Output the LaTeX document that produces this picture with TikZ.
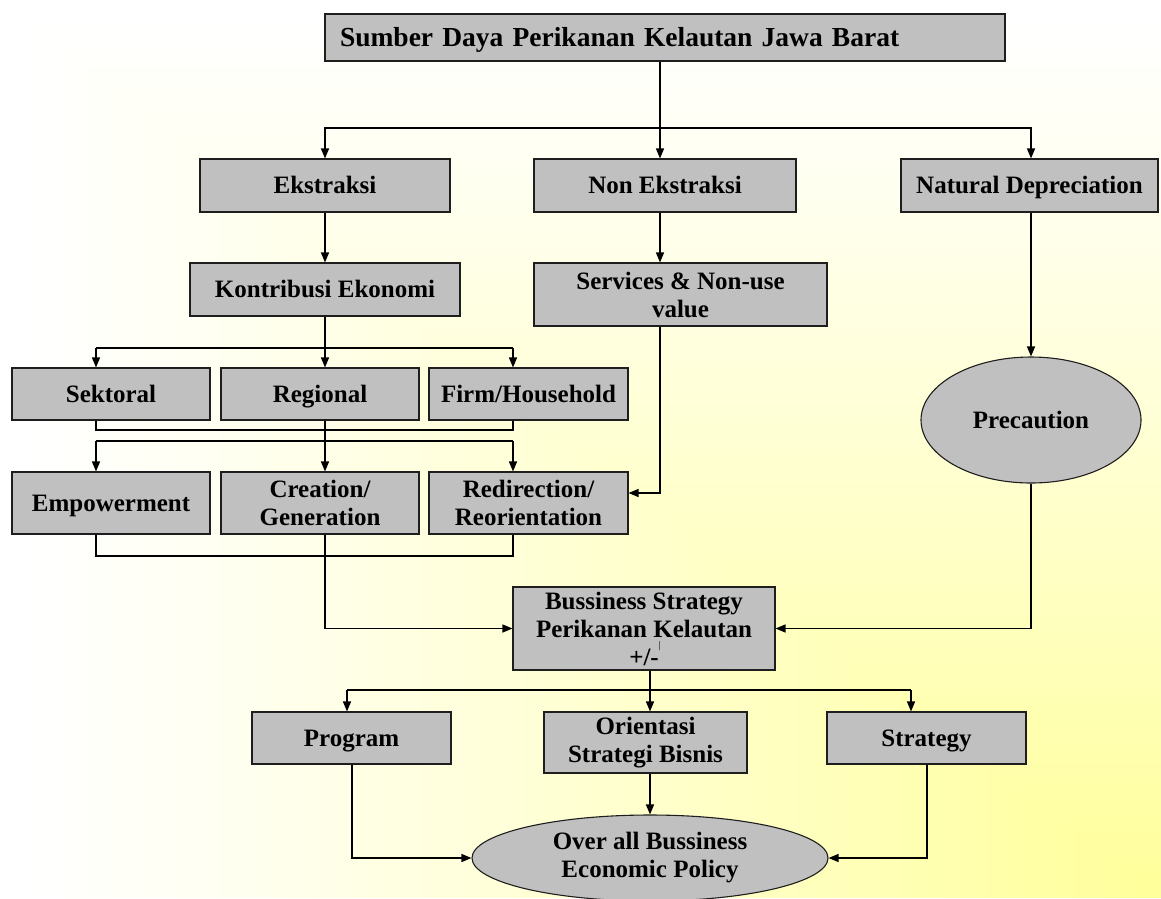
\documentclass[tikz,border=0pt]{standalone}
\usepackage{fontspec}
\setmainfont{Liberation Serif}
\usetikzlibrary{arrows.meta,shapes.geometric}
\definecolor{boxgray}{RGB}{192,192,192}
\definecolor{bgyel}{RGB}{255,255,153}
\definecolor{edge}{RGB}{30,30,30}

\begin{document}
\begin{tikzpicture}[x=1pt,y=-1pt,
  box/.style={draw=edge,line width=1.1pt,fill=boxgray,align=center,inner sep=0pt,
              font=\fontsize{25}{28}\selectfont\bfseries},
  oneline/.style={text height=18pt,text depth=1.5pt},
  oval/.style={box,ellipse},
  ln/.style={line width=1.4pt,draw=black},
  arr/.style={ln,-{Triangle[length=10pt,width=8pt]}}]

\useasboundingbox (0,0) rectangle (1161,898);

% corner gradient: white at the outer edges, pale yellow in the lower right corner
\foreach \i in {0,...,79}{
  \pgfmathsetmacro\bgt{1-\i/80}
  \pgfmathtruncatemacro\bgp{100*(1-\bgt)^1.15}
  \fill[bgyel!\bgp!white] ({1161*(1-\bgt)},{898*(1-\bgt)}) rectangle (1161,898);
}

% connector positions
\coordinate (cA) at (96,0);
\coordinate (cB) at (325,0);
\coordinate (cC) at (513,0);
\coordinate (cM) at (660,0);
\coordinate (cP) at (347,0);
\coordinate (cPb) at (352,0);
\coordinate (cO) at (650,0);
\coordinate (cQ) at (911,0);
\coordinate (cQb) at (927,0);
\coordinate (y1) at (0,128);
\coordinate (y2) at (0,348);
\coordinate (y3) at (0,430);
\coordinate (y4) at (0,441);
\coordinate (y5) at (0,556);
\coordinate (y6) at (0,493);
\coordinate (y7) at (0,690);

% nodes
\node[box,minimum width=680pt,minimum height=47pt,text width=650pt,align=left,inner xsep=15pt,
      text height=19pt,text depth=1.5pt,
      font=\fontsize{27.5}{32}\selectfont\bfseries] (title) at (665,37.5)
      {Sumber Daya Perikanan Kelautan Jawa Barat};

\node[box,oneline,minimum width=250pt,minimum height=53pt] (ekstr) at (325,185.5) {Ekstraksi};
\node[box,oneline,minimum width=262pt,minimum height=53pt] (nonek) at (665,185.5) {Non Ekstraksi};
\node[box,oneline,minimum width=257pt,minimum height=53pt] (natdep) at (1029.5,185.5) {Natural Depreciation};

\node[box,oneline,minimum width=270pt,minimum height=53pt] (kontrib) at (325,289.5) {Kontribusi Ekonomi};
\node[box,minimum width=293pt,minimum height=63pt] (serv) at (680.5,294.5) {Services \& Non-use\\value};
\node[oval,oneline,minimum width=220pt,minimum height=126pt] (prec) at (1031,420) {Precaution};

\node[box,oneline,minimum width=198pt,minimum height=52pt] (sekt) at (111,394) {Sektoral};
\node[box,oneline,minimum width=198pt,minimum height=52pt] (reg) at (320,394) {Regional};
\node[box,oneline,minimum width=199pt,minimum height=52pt] (firm) at (528.5,394) {Firm/Household};

\node[box,oneline,minimum width=198pt,minimum height=62pt] (emp) at (111,503) {Empowerment};
\node[box,minimum width=198pt,minimum height=62pt] (creat) at (320,503) {Creation/\\Generation};
\node[box,minimum width=199pt,minimum height=62pt] (redir) at (528.5,503) {Redirection/\\Reorientation};

\node[box,minimum width=262pt,minimum height=83pt] (buss) at (644,628.5)
  {Bussiness Strategy\\Perikanan Kelautan\\+/-\rlap{\raisebox{17pt}{\fontsize{10}{10}\selectfont\mdseries|}}};

\node[box,oneline,minimum width=199pt,minimum height=52pt] (prog) at (351.5,738) {Program};
\node[box,minimum width=203pt,minimum height=61pt] (orient) at (645.5,742.5) {Orientasi\\Strategi Bisnis};
\node[box,oneline,minimum width=199pt,minimum height=52pt] (strat) at (926.5,738) {Strategy};

\node[oval,minimum width=356pt,minimum height=86pt] (over) at (650,858) {Over all Bussiness\\Economic Policy};

% top branching
\draw[ln] (title.south -| cM) -- (cM |- y1);
\draw[arr] (cM |- y1) -| (ekstr.north);
\draw[arr] (cM |- y1) -| (natdep.north -| prec.north);
\draw[arr] (cM |- y1) -- (nonek.north -| cM);

% extraction branch
\draw[arr] (ekstr.south) -- (kontrib.north);
\draw[ln] (kontrib.south) -- (kontrib.south |- y2);
\draw[ln] (cA |- y2) -- (cC |- y2);
\draw[arr] (cA |- y2) -- (sekt.north -| cA);
\draw[arr] (cB |- y2) -- (reg.north -| cB);
\draw[arr] (cC |- y2) -- (firm.north -| cC);

\draw[ln] (sekt.south -| cA) -- (cA |- y3) -- (cC |- y3) -- (firm.south -| cC);
\draw[ln] (cA |- y4) -- (cC |- y4);
\draw[arr] (cA |- y4) -- (emp.north -| cA);
\draw[arr] (reg.south -| cB) -- (creat.north -| cB);
\draw[arr] (cC |- y4) -- (redir.north -| cC);
\draw[ln] (emp.south -| cA) -- (cA |- y5) -- (cC |- y5) -- (redir.south -| cC);
\draw[arr] (creat.south -| cB) |- (buss.west);

% non-extraction branch
\draw[arr] (nonek.south -| cM) -- (serv.north -| cM);
\draw[arr] (serv.south -| cM) |- (redir.east |- y6);

% depreciation branch
\draw[arr] (natdep.south -| prec.north) -- (prec.north);
\draw[arr] (prec.south) |- (buss.east);

% strategy level
\draw[ln] (buss.south -| cO) -- (cO |- y7);
\draw[ln] (cP |- y7) -- (cQ |- y7);
\draw[arr] (cP |- y7) -- (prog.north -| cP);
\draw[arr] (cO |- y7) -- (orient.north -| cO);
\draw[arr] (cQ |- y7) -- (strat.north -| cQ);

% policy
\draw[arr] (prog.south -| cPb) |- (over.west);
\draw[arr] (orient.south -| cO) -- (over.north);
\draw[arr] (strat.south -| cQb) |- (over.east);
\end{tikzpicture}
\end{document}
